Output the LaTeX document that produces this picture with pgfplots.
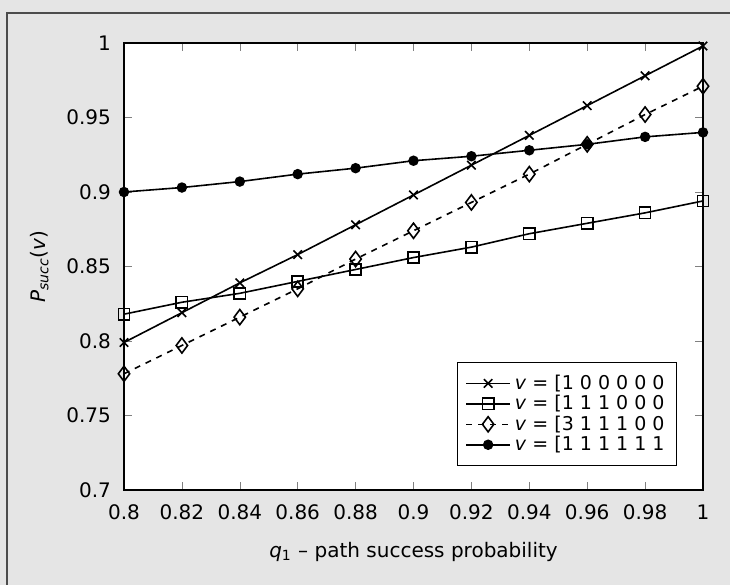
\documentclass[border=0pt]{standalone}
\usepackage{fontspec}
\setmainfont{DejaVu Sans}
\usepackage{pgfplots}
\pgfplotsset{compat=1.18}

\begin{document}
% 1 px of the reference = 0.5pt
\begin{tikzpicture}
\fill[black!10] (0pt,0pt) rectangle (365pt,292.5pt);
\useasboundingbox (0pt,0pt) rectangle (365pt,292.5pt);
\draw[black!70, line width=0.8pt] (3.5pt,0pt) -- (3.5pt,286pt) -- (365pt,286pt);
\begin{axis}[
  at={(62pt,47.5pt)}, anchor=south west,
  scale only axis, width=289.5pt, height=223.5pt,
  xmin=0.8, xmax=1, ymin=0.7, ymax=1,
  xtick={0.8,0.82,0.84,0.86,0.88,0.9,0.92,0.94,0.96,0.98,1},
  ytick={0.7,0.75,0.8,0.85,0.9,0.95,1},
  tick align=inside, tick pos=both, major tick length=4pt,
  axis line style={line width=1pt},
  axis background/.style={fill=white},
  /pgf/number format/assume math mode=true,
  ticklabel style={font=\fontsize{10}{12}\selectfont},
  xticklabel style={yshift=-4pt},
  yticklabel style={xshift=-3pt},
  xlabel={\textit{q}\textsubscript{1} – path success probability},
  ylabel={\textit{P}\textsubscript{\textit{succ}}(\textit{v})},
  label style={font=\fontsize{10}{12}\selectfont},
  xlabel style={yshift=-4pt},
  ylabel style={yshift=2pt},
  legend cell align=left,
  legend image code/.code={
    \draw[mark repeat=2,mark phase=2] plot coordinates {(0pt,0pt) (11pt,0pt) (22pt,0pt)};},
  legend style={at={(0.955,0.054)}, anchor=south east, draw=black,
    font=\fontsize{9.5}{10}\selectfont, row sep=-2.5pt,
    inner sep=4pt},
]
\addplot[black, thick, mark=x, mark size=3pt] coordinates {
  (0.80,0.799) (0.82,0.819) (0.84,0.839) (0.86,0.858) (0.88,0.878)
  (0.90,0.898) (0.92,0.918) (0.94,0.938) (0.96,0.958) (0.98,0.978) (1.00,0.998)
};
\addlegendentry{\textit{v} = [1 0 0 0 0 0}
\addplot[black, thick, mark=square, mark size=2.8pt, mark options={fill=white, solid}] coordinates {
  (0.80,0.818) (0.82,0.826) (0.84,0.832) (0.86,0.840) (0.88,0.848)
  (0.90,0.856) (0.92,0.863) (0.94,0.872) (0.96,0.879) (0.98,0.886) (1.00,0.894)
};
\addlegendentry{\textit{v} = [1 1 1 0 0 0}
\addplot[black, thick, dashed, mark=diamond, mark size=3.8pt, mark options={fill=white, solid}] coordinates {
  (0.80,0.778) (0.82,0.797) (0.84,0.816) (0.86,0.835) (0.88,0.855)
  (0.90,0.874) (0.92,0.893) (0.94,0.912) (0.96,0.932) (0.98,0.952) (1.00,0.971)
};
\addlegendentry{\textit{v} = [3 1 1 1 0 0}
\addplot[black, thick, mark=*, mark size=2.2pt] coordinates {
  (0.80,0.900) (0.82,0.903) (0.84,0.907) (0.86,0.912) (0.88,0.916)
  (0.90,0.921) (0.92,0.924) (0.94,0.928) (0.96,0.932) (0.98,0.937) (1.00,0.940)
};
\addlegendentry{\textit{v} = [1 1 1 1 1 1}
\end{axis}
\end{tikzpicture}
\end{document}
